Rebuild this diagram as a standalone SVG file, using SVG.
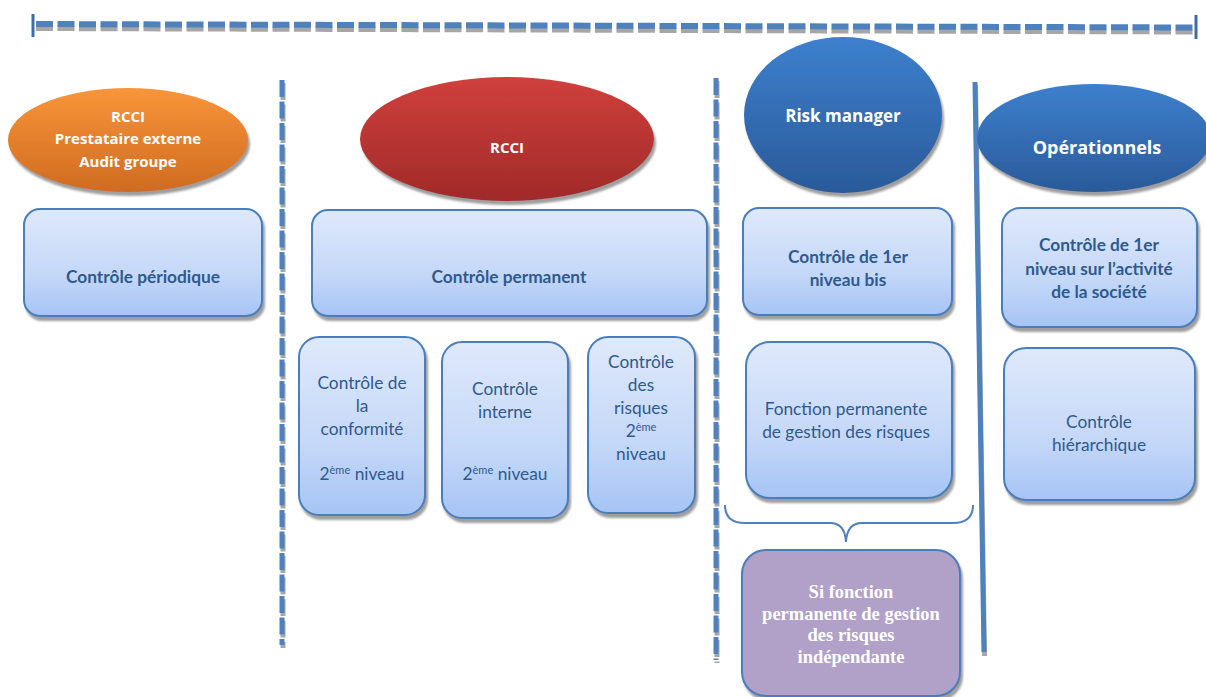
<svg xmlns="http://www.w3.org/2000/svg" width="1206" height="697" viewBox="0 0 1206 697">
<defs>
  <linearGradient id="gBox" x1="0" y1="0" x2="0" y2="1">
    <stop offset="0" stop-color="#dfe9fb"/>
    <stop offset="0.6" stop-color="#c5d8f8"/>
    <stop offset="1" stop-color="#a6c4f5"/>
  </linearGradient>
  <linearGradient id="gOrange" x1="0" y1="0" x2="0" y2="1">
    <stop offset="0" stop-color="#f9953a"/>
    <stop offset="1" stop-color="#cf6b20"/>
  </linearGradient>
  <linearGradient id="gRed" x1="0" y1="0" x2="0" y2="1">
    <stop offset="0" stop-color="#d0403c"/>
    <stop offset="1" stop-color="#a02a29"/>
  </linearGradient>
  <linearGradient id="gBlue" x1="0" y1="0" x2="0" y2="1">
    <stop offset="0" stop-color="#3d80cd"/>
    <stop offset="1" stop-color="#2a5a9a"/>
  </linearGradient>
  <filter id="sh" x="-10%" y="-10%" width="125%" height="130%">
    <feDropShadow dx="2" dy="4" stdDeviation="1.2" flood-color="#7f7f7f" flood-opacity="0.75"/>
  </filter>
</defs>
<style>
  .box { fill: url(#gBox); stroke: #4a7ebb; stroke-width: 2; filter: url(#sh); }
  .t { font-family: Lato, "Open Sans", sans-serif; font-size: 17.3px; fill: #2f5a8e; text-anchor: middle; }
  .b { font-weight: bold; }
  .w { font-family: "Open Sans", Lato, sans-serif; font-weight: bold; font-size: 15px; fill: #ffffff; text-anchor: middle; }
  .dashB { stroke: #4f81bd; stroke-dasharray: 17 4.5; fill: none; }
  .dashG { stroke: #a6a6a6; stroke-dasharray: 17 4.5; fill: none; }
  .sup { font-size: 11px; }
</style>

<g id="connectors">
  <!-- top dashed line -->
  <line class="dashG" x1="36" y1="28.5" x2="1194" y2="32" stroke-width="5"/>
  <line class="dashB" x1="36" y1="24" x2="1194" y2="27.5" stroke-width="6"/>
  <line x1="33" y1="14" x2="33" y2="37" stroke="#3a6ea8" stroke-width="3"/>
  <line x1="1196" y1="15" x2="1196" y2="39" stroke="#3a6ea8" stroke-width="3"/>
  <!-- vertical dashed separators -->
  <line class="dashG" x1="283" y1="83" x2="283" y2="648" stroke-width="5"/>
  <line class="dashB" x1="282" y1="80" x2="282" y2="645" stroke-width="5"/>
  <line class="dashG" x1="717" y1="81" x2="717" y2="663" stroke-width="5"/>
  <line class="dashB" x1="716" y1="78" x2="716" y2="660" stroke-width="5"/>
  <!-- solid separator -->
  <line x1="975.5" y1="85" x2="984.5" y2="656" stroke="#a6a6a6" stroke-width="5"/>
  <line x1="975" y1="82" x2="984" y2="652" stroke="#4f81bd" stroke-width="5"/>
  <!-- brace -->
  <path d="M725,505 Q725,523 745,523 L830,523 Q845,523 846,542 Q847,523 862,523 L953,523 Q973,523 973,505" fill="none" stroke="#4f81bd" stroke-width="2"/>
</g>

<g id="n-orange">
  <ellipse cx="128" cy="140" rx="120" ry="52" fill="url(#gOrange)" filter="url(#sh)"/>
  <text class="w" x="128" y="122">RCCI</text>
  <text class="w" x="128" y="144">Prestataire externe</text>
  <text class="w" x="128" y="167">Audit groupe</text>
</g>
<g id="n-periodique">
  <rect class="box" x="24" y="209" width="238" height="107" rx="16"/>
  <text class="t b" x="143" y="283">Contrôle périodique</text>
</g>

<g id="n-rcci">
  <ellipse cx="507" cy="139" rx="147" ry="62" fill="url(#gRed)" filter="url(#sh)"/>
  <text class="w" x="507" y="153">RCCI</text>
</g>
<g id="n-permanent">
  <rect class="box" x="312" y="210" width="395" height="106" rx="16"/>
  <text class="t b" x="509" y="283">Contrôle permanent</text>
</g>
<g id="n-conformite">
  <rect class="box" x="299" y="337" width="126" height="178" rx="20"/>
  <text class="t" x="362" y="389">Contrôle de</text>
  <text class="t" x="362" y="412">la</text>
  <text class="t" x="362" y="435">conformité</text>
  <text class="t" x="362" y="480">2<tspan class="sup" dy="-6">ème</tspan><tspan dy="6"> niveau</tspan></text>
</g>
<g id="n-interne">
  <rect class="box" x="442" y="342" width="126" height="176" rx="20"/>
  <text class="t" x="505" y="395">Contrôle</text>
  <text class="t" x="505" y="418">interne</text>
  <text class="t" x="505" y="480">2<tspan class="sup" dy="-6">ème</tspan><tspan dy="6"> niveau</tspan></text>
</g>
<g id="n-risques">
  <rect class="box" x="588" y="337" width="107" height="176" rx="20"/>
  <text class="t" x="641" y="368">Contrôle</text>
  <text class="t" x="641" y="391">des</text>
  <text class="t" x="641" y="414">risques</text>
  <text class="t" x="641" y="437">2<tspan class="sup" dy="-6">ème</tspan></text>
  <text class="t" x="641" y="460">niveau</text>
</g>

<g id="n-riskmanager">
  <ellipse cx="843" cy="115" rx="99" ry="78" fill="url(#gBlue)" filter="url(#sh)"/>
  <text class="w" x="843" y="122" style="font-size:17px">Risk manager</text>
</g>
<g id="n-1erbis">
  <rect class="box" x="743" y="208" width="209" height="107" rx="16"/>
  <text class="t b" x="848" y="263">Contrôle de 1er</text>
  <text class="t b" x="848" y="286">niveau bis</text>
</g>
<g id="n-fonction">
  <rect class="box" x="746" y="342" width="206" height="156" rx="24"/>
  <text class="t" x="846" y="415">Fonction permanente</text>
  <text class="t" x="846" y="438">de gestion des risques</text>
</g>
<g id="n-independante">
  <rect x="742" y="550" width="218" height="146" rx="24" fill="#b1a0c7" stroke="#4a7ebb" stroke-width="2" filter="url(#sh)"/>
  <g style="font-family:'Liberation Serif', serif; font-weight:bold; font-size:18.5px; fill:#ffffff; text-anchor:middle">
    <text x="851" y="598">Si fonction</text>
    <text x="851" y="620">permanente de gestion</text>
    <text x="851" y="641">des risques</text>
    <text x="851" y="663">indépendante</text>
  </g>
</g>

<g id="n-operationnels">
  <ellipse cx="1094" cy="138" rx="117" ry="54" fill="url(#gBlue)" filter="url(#sh)"/>
  <text class="w" x="1097" y="154" style="font-size:18px">Opérationnels</text>
</g>
<g id="n-1eractivite">
  <rect class="box" x="1002" y="208" width="195" height="119" rx="18"/>
  <text class="t b" x="1099" y="251">Contrôle de 1er</text>
  <text class="t b" x="1099" y="275">niveau sur l’activité</text>
  <text class="t b" x="1099" y="298">de la société</text>
</g>
<g id="n-hierarchique">
  <rect class="box" x="1004" y="348" width="191" height="152" rx="22"/>
  <text class="t" x="1099" y="428">Contrôle</text>
  <text class="t" x="1099" y="451">hiérarchique</text>
</g>
</svg>
